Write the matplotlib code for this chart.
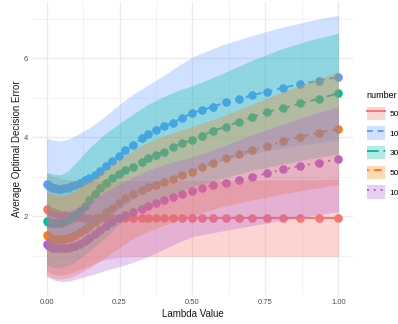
import matplotlib
matplotlib.use("Agg")
import matplotlib.pyplot as plt
from matplotlib.patches import Patch
from matplotlib.lines import Line2D

plt.rcParams['font.family'] = ['Liberation Sans', 'DejaVu Sans']

# lambda values of the points
lam = [0.000, 0.004, 0.009, 0.015, 0.022, 0.030, 0.039, 0.049, 0.060, 0.072,
       0.085, 0.099, 0.114, 0.130, 0.147, 0.165, 0.184, 0.204, 0.225, 0.247,
       0.270, 0.297, 0.326, 0.349, 0.375, 0.403, 0.432, 0.463, 0.497, 0.531,
       0.571, 0.614, 0.659, 0.705, 0.756, 0.811, 0.870, 0.933, 1.000]

red_mean = [2.17, 2.15, 2.13, 2.11, 2.09, 2.07, 2.05, 2.03, 2.02, 2.00,
            1.99, 1.98, 1.97, 1.96, 1.96, 1.96, 1.96, 1.95, 1.95, 1.95,
            1.95, 1.95, 1.95, 1.95, 1.95, 1.95, 1.95, 1.95, 1.95, 1.95,
            1.95, 1.95, 1.95, 1.95, 1.95, 1.95, 1.95, 1.95, 1.95]
blue_mean = [2.81, 2.78, 2.75, 2.73, 2.71, 2.70, 2.69, 2.69, 2.70, 2.72,
             2.75, 2.79, 2.84, 2.90, 2.97, 3.05, 3.15, 3.26, 3.39, 3.52,
             3.66, 3.80, 3.97, 4.07, 4.18, 4.27, 4.36, 4.48, 4.60, 4.68,
             4.77, 4.88, 4.96, 5.06, 5.15, 5.25, 5.34, 5.43, 5.52]
teal_mean = [1.88, 1.86, 1.84, 1.83, 1.82, 1.82, 1.82, 1.83, 1.85, 1.89,
             1.96, 2.03, 2.13, 2.26, 2.40, 2.55, 2.70, 2.84, 2.96, 3.07,
             3.16, 3.25, 3.37, 3.46, 3.54, 3.63, 3.74, 3.84, 3.92, 4.03,
             4.16, 4.26, 4.39, 4.50, 4.64, 4.73, 4.85, 4.97, 5.11]
orange_mean = [1.52, 1.49, 1.47, 1.45, 1.43, 1.42, 1.41, 1.41, 1.42, 1.44,
               1.48, 1.53, 1.59, 1.67, 1.76, 1.86, 1.97, 2.09, 2.21, 2.34,
               2.46, 2.57, 2.66, 2.73, 2.78, 2.87, 2.95, 3.04, 3.12, 3.23,
               3.35, 3.46, 3.57, 3.67, 3.77, 3.90, 4.01, 4.11, 4.21]
purple_mean = [1.29, 1.26, 1.24, 1.22, 1.20, 1.19, 1.18, 1.18, 1.18, 1.19,
               1.21, 1.25, 1.30, 1.37, 1.45, 1.55, 1.65, 1.75, 1.85, 1.94,
               2.03, 2.11, 2.19, 2.26, 2.34, 2.41, 2.49, 2.56, 2.63, 2.70,
               2.78, 2.83, 2.91, 3.00, 3.08, 3.18, 3.27, 3.35, 3.44]

# ribbon bounds
lam_band = [0.0, 0.025, 0.05, 0.075, 0.1, 0.15, 0.2, 0.25, 0.3, 0.35,
            0.4, 0.45, 0.5, 0.6, 0.7, 0.8, 0.9, 1.0]
red_lo = [0.59, 0.52, 0.50, 0.54, 0.60, 0.76, 0.90, 0.96, 0.97, 0.97,
          0.97, 0.97, 0.97, 0.97, 0.97, 0.97, 0.97, 0.97]
red_hi = [3.10, 3.00, 2.95, 2.92, 2.90, 2.90, 2.90, 2.90, 2.90, 2.90,
          2.90, 2.90, 2.90, 2.90, 2.91, 2.92, 2.92, 2.93]
blue_lo = [1.65, 1.55, 1.50, 1.50, 1.55, 1.70, 1.92, 2.18, 2.45, 2.67,
           2.85, 3.00, 3.15, 3.40, 3.58, 3.71, 3.83, 3.93]
blue_hi = [3.97, 3.92, 3.90, 3.95, 4.04, 4.25, 4.52, 4.83, 5.10, 5.33,
           5.55, 5.80, 6.03, 6.33, 6.56, 6.77, 6.94, 7.09]
teal_lo = [0.75, 0.70, 0.70, 0.75, 0.85, 1.12, 1.45, 1.80, 2.10, 2.30,
           2.45, 2.60, 2.75, 2.95, 3.15, 3.30, 3.45, 3.57]
teal_hi = [3.10, 3.06, 3.05, 3.15, 3.35, 3.75, 4.08, 4.35, 4.60, 4.84,
           5.02, 5.18, 5.30, 5.60, 5.93, 6.22, 6.45, 6.63]
orange_lo = [0.50, 0.42, 0.40, 0.43, 0.50, 0.70, 0.95, 1.20, 1.45, 1.62,
             1.76, 1.89, 2.00, 2.24, 2.40, 2.55, 2.68, 2.79]
orange_hi = [2.60, 2.53, 2.50, 2.55, 2.65, 2.90, 3.18, 3.43, 3.68, 3.88,
             4.03, 4.15, 4.27, 4.52, 4.82, 5.12, 5.40, 5.65]
purple_lo = [0.46, 0.38, 0.34, 0.35, 0.40, 0.50, 0.62, 0.72, 0.84, 0.98,
             1.15, 1.33, 1.48, 1.62, 1.75, 1.88, 2.00, 2.11]
purple_hi = [2.20, 2.13, 2.10, 2.13, 2.20, 2.38, 2.60, 2.80, 3.00, 3.16,
             3.30, 3.40, 3.50, 3.75, 4.05, 4.30, 4.55, 4.77]

labels = ['50', '10', '30', '50', '10']
colors = ['#F8766D', '#619CFF', '#00BF9E', '#FF7F0E', '#B25ED8']
styles = ['-', (0, (3, 2.5)), (0, (6, 2.5)), (0, (1, 2.5, 4, 2.5)), (0, (1, 2.5))]

means = [red_mean, blue_mean, teal_mean, orange_mean, purple_mean]
los = [red_lo, blue_lo, teal_lo, orange_lo, purple_lo]
his = [red_hi, blue_hi, teal_hi, orange_hi, purple_hi]

fig = plt.figure(figsize=(3.98, 3.24), dpi=100)
ax = fig.add_axes([0.0804, 0.0895, 0.8065, 0.9055])

for m, c, ls in zip(means, colors, styles):
    ax.plot(lam, m, color=c, linestyle=ls, linewidth=1.4, zorder=2)
    ax.plot(lam, m, 'o', color=c, markersize=6.2, markeredgewidth=0, zorder=3)

for lo, hi, c in zip(los, his, colors):
    ax.fill_between(lam_band, lo, hi, color=c, alpha=0.3, linewidth=0, zorder=4)

ax.set_xlim(-0.05, 1.05)
ax.set_ylim(0.0, 7.43)
ax.set_xticks([0, 0.25, 0.5, 0.75, 1.0])
ax.set_xticklabels(['0.00', '0.25', '0.50', '0.75', '1.00'])
ax.set_xticks([0.125, 0.375, 0.625, 0.875], minor=True)
ax.set_yticks([2, 4, 6])
ax.set_yticks([1, 3, 5, 7], minor=True)
ax.grid(True, which='major', color='#ebebeb', linewidth=1.0, zorder=0)
ax.grid(True, which='minor', color='#f0f0f0', linewidth=0.6, zorder=0)
ax.set_axisbelow(True)
for s in ax.spines.values():
    s.set_visible(False)
ax.tick_params(which='both', length=0, labelsize=5.5, labelcolor='#4d4d4d', pad=3)
ax.set_xlabel('Lambda Value', fontsize=7, color='#1a1a1a', labelpad=2)
ax.set_ylabel('Average Optimal Decision Error', fontsize=7, color='#1a1a1a', labelpad=1)

handles = []
for c, ls in zip(colors, styles):
    handles.append((Patch(facecolor=c, alpha=0.3, edgecolor='none'),
                    Line2D([], [], color=c, linestyle=ls, linewidth=1.4)))
leg = fig.legend(handles, labels, title='number', loc='upper left',
                 bbox_to_anchor=(0.921, 0.718), frameon=False, fontsize=6,
                 title_fontsize=6.5, handlelength=2.16, handleheight=2.1,
                 labelspacing=0.75, handletextpad=0.6, borderaxespad=0,
                 borderpad=0, alignment='left')

fig.savefig('out.png', dpi=100)
